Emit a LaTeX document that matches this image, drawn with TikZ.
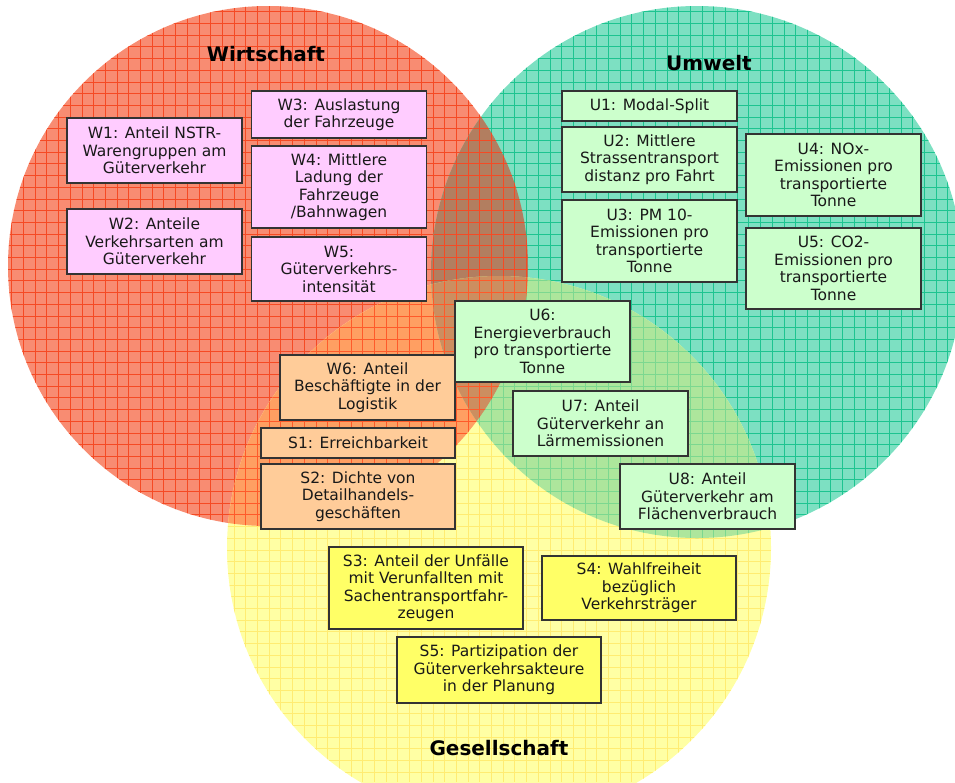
\documentclass[tikz,border=0pt]{standalone}
\usepackage{fontspec}
\setmainfont{DejaVu Sans}

\definecolor{wfill}{HTML}{F88C72}
\definecolor{wline}{HTML}{F54A24}
\definecolor{ufill}{HTML}{7DE0C2}
\definecolor{uline}{HTML}{1DC490}
\definecolor{gfill}{HTML}{FFFFA4}
\definecolor{gline}{HTML}{FFEC72}
\definecolor{wufill}{HTML}{B27E60}
\definecolor{wgfill}{HTML}{FF9F62}
\definecolor{wgline}{HTML}{FF5A2A}
\definecolor{ugfill}{HTML}{ADE69C}
\definecolor{ugline}{HTML}{7CD890}
\definecolor{wugfill}{HTML}{CC8E60}
\definecolor{wboxfill}{HTML}{FFCCFF}
\definecolor{uboxfill}{HTML}{CCFFCC}
\definecolor{mboxfill}{HTML}{FFCC99}
\definecolor{sboxfill}{HTML}{FFFF66}

\tikzset{
  raster/.style={step=11.7pt,line width=0.7pt},
  indikator/.style={draw=black!80,line width=1.4pt,inner sep=0pt,align=center,
    text=black!90,font=\fontsize{15.5}{17.5}\selectfont},
  wind/.style={indikator,fill=wboxfill,minimum width=175pt},
  uind/.style={indikator,fill=uboxfill,minimum width=175pt},
  mind/.style={indikator,fill=mboxfill,minimum width=194pt},
  sind/.style={indikator,fill=sboxfill,minimum width=194pt},
  titel/.style={font=\bfseries\fontsize{20}{24}\selectfont}
}

\begin{document}
\begin{tikzpicture}[x=1pt,y=-1pt]
\useasboundingbox (0,0) rectangle (955,782);
\clip (0,0) rectangle (955,782);

\coordinate (cw) at (268,266);
\coordinate (cu) at (697,272);
\coordinate (cg) at (499,548);

% Kreise
\begin{scope}
\fill[wfill] (cw) circle (260);
\clip (cw) circle (260);
\draw[raster,wline] (0,782) grid (955,0);
\end{scope}

\begin{scope}
\fill[ufill] (cu) circle (266);
\clip (cu) circle (266);
\draw[raster,uline] (0,782) grid (955,0);
\end{scope}

\begin{scope}
\fill[gfill] (cg) circle (272);
\clip (cg) circle (272);
\draw[raster,gline] (0,782) grid (955,0);
\end{scope}

% Schnittflaechen
\begin{scope}
\clip (cw) circle (260);
\fill[wufill] (cu) circle (266);
\clip (cu) circle (266);
\draw[raster,wline] (0,782) grid (955,0);
\end{scope}

\begin{scope}
\clip (cw) circle (260);
\fill[wgfill] (cg) circle (272);
\clip (cg) circle (272);
\draw[raster,wgline] (0,782) grid (955,0);
\end{scope}

\begin{scope}
\clip (cu) circle (266);
\fill[ugfill] (cg) circle (272);
\clip (cg) circle (272);
\draw[raster,ugline] (0,782) grid (955,0);
\end{scope}

\begin{scope}
\clip (cw) circle (260);
\clip (cu) circle (266);
\fill[wugfill] (cg) circle (272);
\clip (cg) circle (272);
\draw[raster,wgline] (0,782) grid (955,0);
\end{scope}

\node[titel] (wirtschaft) at (266,54) {Wirtschaft};
\node[titel] (umwelt) at (709,63) {Umwelt};
\node[titel] (gesellschaft) at (499,748) {Gesellschaft};

\node[wind,minimum height=65pt] (w1) at (154.5,150.5) {W1: Anteil NSTR-\\Warengruppen am\\Güterverkehr};
\node[wind,minimum height=65pt] (w2) at (154.5,241.5) {W2: Anteile\\Verkehrsarten am\\Güterverkehr};
\node[wind,minimum height=47pt] (w3) at (339,114.5) {W3: Auslastung\\der Fahrzeuge};
\node[wind,minimum height=82pt] (w4) at (339,187) {W4: Mittlere\\Ladung der\\Fahrzeuge\\/Bahnwagen};
\node[wind,minimum height=64pt] (w5) at (339,269) {W5:\\Güterverkehrs-\\intensität};
\node[wind,fill=mboxfill,minimum height=65pt] (w6) at (367.5,387.5) {W6: Anteil\\Beschäftigte in der\\Logistik};

\node[uind,minimum height=30pt] (u1) at (649.5,106) {U1: Modal-Split};
\node[uind,minimum height=65pt] (u2) at (649.5,159.5) {U2: Mittlere\\Strassentransport\\distanz pro Fahrt};
\node[uind,minimum height=82pt] (u3) at (649.5,241) {U3: PM 10-\\Emissionen pro\\transportierte\\Tonne};
\node[uind,minimum height=82pt] (u4) at (833.5,175) {U4: NOx-\\Emissionen pro\\transportierte\\Tonne};
\node[uind,minimum height=81pt] (u5) at (833.5,268.5) {U5: CO2-\\Emissionen pro\\transportierte\\Tonne};
\node[uind,minimum height=81pt] (u6) at (542.5,341.5) {U6:\\Energieverbrauch\\pro transportierte\\Tonne};
\node[uind,minimum height=65pt] (u7) at (600.5,423.5) {U7: Anteil\\Güterverkehr an\\Lärmemissionen};
\node[uind,minimum height=65pt] (u8) at (707.5,496.5) {U8: Anteil\\Güterverkehr am\\Flächenverbrauch};

\node[mind,minimum height=30pt] (s1) at (358,443) {S1: Erreichbarkeit};
\node[mind,minimum height=65pt] (s2) at (358,496.5) {S2: Dichte von\\Detailhandels-\\geschäften};
\node[sind,minimum height=82pt] (s3) at (426,588) {S3: Anteil der Unfälle\\mit Verunfallten mit\\Sachentransportfahr-\\zeugen};
\node[sind,minimum height=64pt] (s4) at (639,588) {S4: Wahlfreiheit\\bezüglich\\Verkehrsträger};
\node[sind,minimum width=204pt,minimum height=66pt] (s5) at (499,670) {S5: Partizipation der\\Güterverkehrsakteure\\in der Planung};

\end{tikzpicture}
\end{document}
